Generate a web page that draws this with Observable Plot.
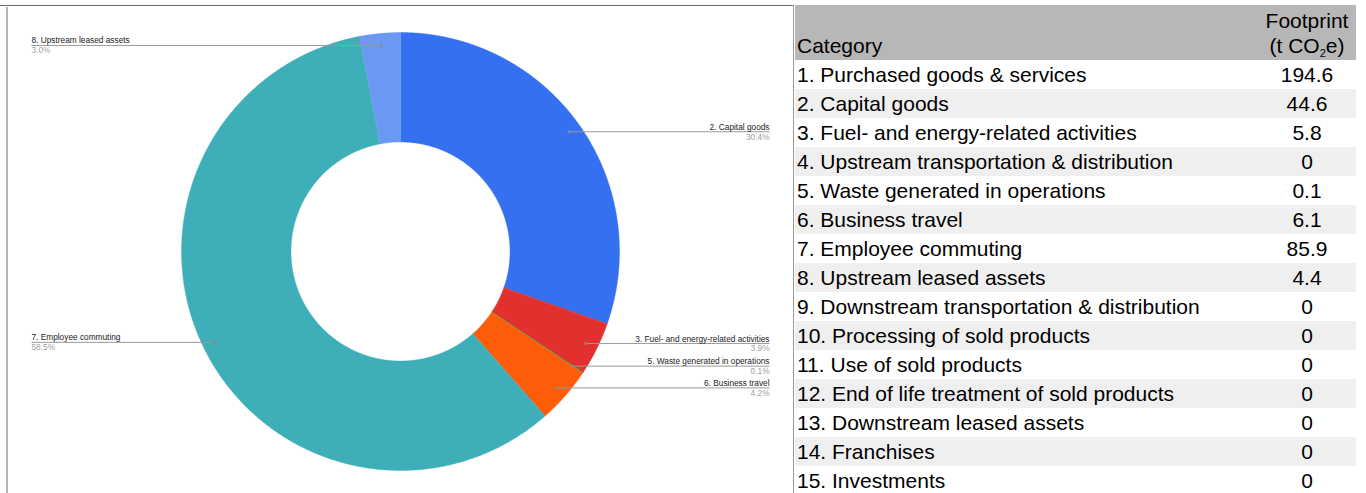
<!DOCTYPE html>
<html>
<head>
<meta charset="utf-8">
<script src="https://cdn.jsdelivr.net/npm/d3@7"></script>
<script src="https://cdn.jsdelivr.net/npm/@observablehq/plot@0.6"></script>
<style>
  html, body { margin: 0; padding: 0; background: #fff; }
  body { width: 1366px; height: 493px; overflow: hidden; position: relative;
         font-family: "Liberation Sans", Arial, sans-serif; }
  #chart { position: absolute; left: 0; top: 0; }
  .ln { position: absolute; }
  #tbl { position: absolute; left: 795px; top: 5px; border-collapse: collapse;
         font-family: "Liberation Sans", Arial, sans-serif; font-size: 21px; color: #000; }
  #tbl th, #tbl td { padding: 0; font-weight: normal; }
  #tbl th { background: #b7b7b7; height: 55px; vertical-align: bottom; line-height: 25px; padding-bottom: 2px; box-sizing: border-box; }
  #tbl td { height: 29px; line-height: 29px; white-space: nowrap; }
  #tbl .c1 { width: 463px; text-align: left; padding-left: 2px; box-sizing: border-box; }
  #tbl .c2 { width: 98px; text-align: center; }
  #tbl tr.alt td { background: #efefef; }
  #tbl sub { font-size: 11px; line-height: 0; vertical-align: -4px; }
</style>
</head>
<body>
<div id="chart"></div>
<div class="ln" style="left:0;top:5px;width:794px;height:1px;background:#6a6a6a"></div>
<div class="ln" style="left:6px;top:7px;width:2px;height:486px;background:#b4b4b4"></div>
<div class="ln" style="left:793px;top:5px;width:1px;height:488px;background:#9a9a9a"></div>
<table id="tbl"></table>
<script>
// ---- data ----
const categories = [
  "1. Purchased goods & services",
  "2. Capital goods",
  "3. Fuel- and energy-related activities",
  "4. Upstream transportation & distribution",
  "5. Waste generated in operations",
  "6. Business travel",
  "7. Employee commuting",
  "8. Upstream leased assets",
  "9. Downstream transportation & distribution",
  "10. Processing of sold products",
  "11. Use of sold products",
  "12. End of life treatment of sold products",
  "13. Downstream leased assets",
  "14. Franchises",
  "15. Investments"
];
const footprint = [194.6, 44.6, 5.8, 0, 0.1, 6.1, 85.9, 4.4, 0, 0, 0, 0, 0, 0, 0];
// the donut's data range starts at category 2
const donutCategories = categories.slice(1);
const donutValues = footprint.slice(1);
const sliceColors = ["#3570f0", "#e1302d", "#f4b400", "#2e9f48", "#ff5c0a", "#3eafb9", "#6b98f2",
                     "#e06666", "#a64d79", "#45818e", "#999999", "#674ea7", "#c27ba0", "#76a5af"];

// ---- table ----
const tbl = document.getElementById("tbl");
let html = '<tr><th class="c1" style="text-align:left;padding-left:2px">Category</th>' +
           '<th class="c2">Footprint<br>(t CO<sub>2</sub>e)</th></tr>';
categories.forEach((c, i) => {
  html += `<tr class="${i % 2 === 1 ? "alt" : ""}"><td class="c1">${c.replace("&", "&amp;")}</td><td class="c2">${footprint[i]}</td></tr>`;
});
tbl.innerHTML = html;

// ---- donut ----
const donutData = donutCategories.map((cat, i) => ({cat, value: donutValues[i]}));
const total = d3.sum(donutValues);
const arcs = d3.pie().sort(null).value(d => d.value)(donutData);
const rOuter = 1, rInner = 0.5, rDot = 0.945, labelX = 1.685;

const poly = [];
for (const a of arcs) {
  const span = a.endAngle - a.startAngle;
  if (span <= 0) continue;
  const n = Math.max(2, Math.ceil(span / 0.004));
  for (let i = 0; i <= n; i++) {
    const t = a.startAngle + span * i / n;
    poly.push({cat: a.data.cat, x: rOuter * Math.sin(t), y: rOuter * Math.cos(t)});
  }
  for (let i = n; i >= 0; i--) {
    const t = a.startAngle + span * i / n;
    poly.push({cat: a.data.cat, x: rInner * Math.sin(t), y: rInner * Math.cos(t)});
  }
}

const labels = arcs.filter(a => a.value > 0).map(a => {
  const mid = (a.startAngle + a.endAngle) / 2;
  const right = mid < Math.PI;
  return {
    cat: a.data.cat,
    pct: (a.value / total * 100).toFixed(1) + "%",
    dx: rDot * Math.sin(mid),
    dy: rDot * Math.cos(mid),
    lx: right ? labelX : -labelX,
    right
  };
});
const rightL = labels.filter(d => d.right);
const leftL = labels.filter(d => !d.right);

const fs = 8.3;
const chart = Plot.plot({
  width: 793,
  height: 493,
  marginLeft: 181, marginRight: 174, marginTop: 32, marginBottom: 23,
  x: {domain: [-1, 1], axis: null},
  y: {domain: [-1, 1], axis: null},
  color: {domain: donutCategories, range: sliceColors},
  style: {fontFamily: "Liberation Sans, Arial, sans-serif", background: "transparent", overflow: "visible"},
  marks: [
    Plot.line(poly, {x: "x", y: "y", z: "cat", fill: "cat", stroke: "cat", strokeWidth: 0.4, curve: "linear-closed"}),
    Plot.link(labels, {x1: "dx", y1: "dy", x2: "lx", y2: "dy", stroke: "#9a9a9a", strokeWidth: 1}),
    Plot.dot(labels, {x: "dx", y: "dy", r: 1.5, fill: "#8a8a8a", stroke: null}),
    Plot.text(rightL, {x: "lx", y: "dy", text: "cat", textAnchor: "end", lineAnchor: "bottom", dy: -2, fontSize: fs, fill: "#222"}),
    Plot.text(rightL, {x: "lx", y: "dy", text: "pct", textAnchor: "end", lineAnchor: "top", dy: 2, fontSize: fs, fill: "#9e9e9e"}),
    Plot.text(leftL, {x: "lx", y: "dy", text: "cat", textAnchor: "start", lineAnchor: "bottom", dy: -2, fontSize: fs, fill: "#222"}),
    Plot.text(leftL, {x: "lx", y: "dy", text: "pct", textAnchor: "start", lineAnchor: "top", dy: 2, fontSize: fs, fill: "#9e9e9e"})
  ]
});
document.getElementById("chart").appendChild(chart);
</script>
</body>
</html>
